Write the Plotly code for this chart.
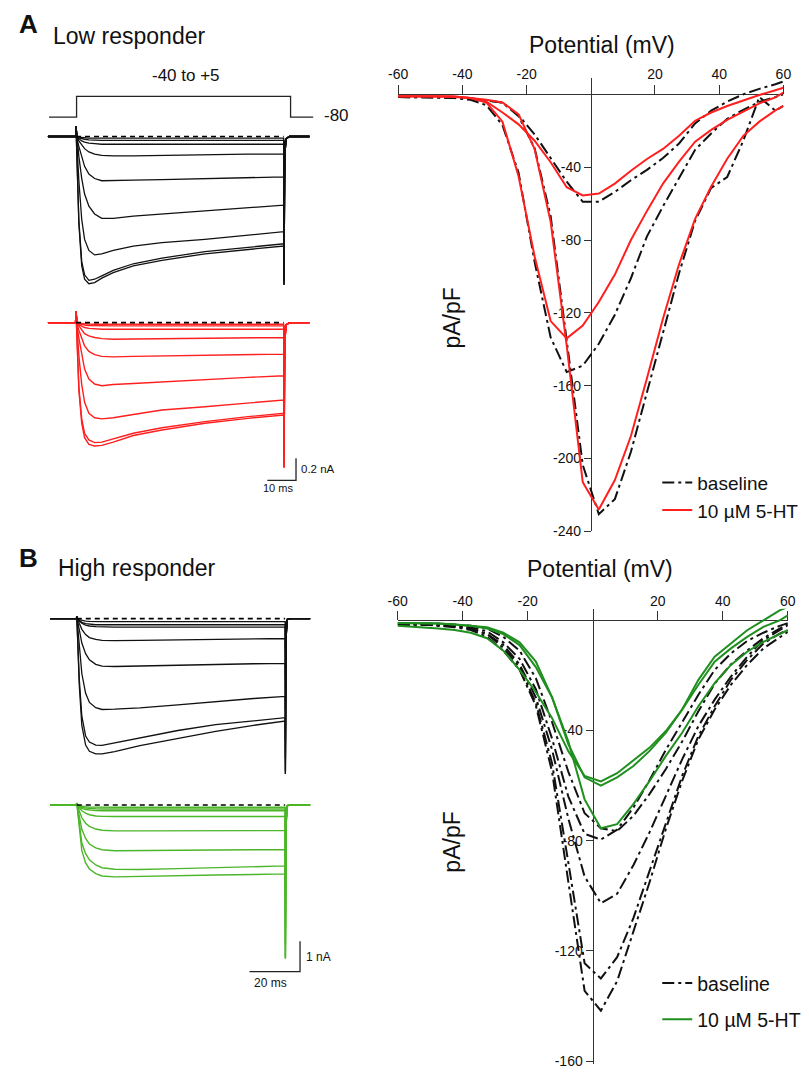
import plotly.graph_objects as go

W, H = 809, 1077
FONT = "Liberation Sans, Arial, Helvetica, sans-serif"

def fx(px):
    return px / W

def fy(py):
    return 1 - py / H

# ---------------- I-V data (pA/pF) ----------------
V = [-60, -52.5, -47.5, -42.5, -37.5, -32.5, -27.5, -22.5, -17.5, -12.5, -7.5, -2.5,
     2.5, 7.5, 12.5, 17.5, 22.5, 27.5, 32.5, 37.5, 42.5, 47.5, 52.5, 57.5, 60]

# Panel A (low responder)
A_base_small = [-1.5, -1.5, -1.5, -1.8, -2.2, -3.2, -4.5, -11.5, -22, -35, -48, -59, -59,
                -53.6, -47.2, -41.5, -35, -27, -16, -9, -4, 0, 3, 5.5, 7]
A_base_med = [-1.5, -1.5, -1.8, -2, -3, -6, -17, -43, -92, -133.5, -152.5, -149, -137,
              -121, -101, -78, -61.5, -46, -30.5, -21.5, -13.5, -8.5, -4.2, -1.5, 0]
A_base_large = [-1.5, -1.5, -1.5, -2, -2.5, -3.5, -4.5, -12, -29.6, -66.9, -134.8, -203.5, -230.5,
                -222.3, -196.3, -164, -130.3, -98.2, -69.4, -51.4, -45.4, -25.5, -1.5, -9, -6.4]
A_5ht_small = [-1, -1, -1, -1.2, -2, -4, -10, -16.5, -25.5, -37.3, -51, -55.5, -54.5,
               -49, -42, -35.5, -30, -22.7, -14.5, -10, -6.4, -3.3, -0.4, 2.2, 3.6]
A_5ht_med = [-1, -1, -1, -1.2, -2, -4.5, -15, -45, -89, -124.5, -134, -127, -114,
             -99, -80, -64, -49, -37, -26, -19.5, -14, -9.4, -5, -1.7, 1]
A_5ht_large = [-1, -1, -1, -1.5, -2, -3, -4.5, -11, -30, -70, -138, -213, -228,
               -211.8, -187.6, -155.9, -123.1, -93.3, -68.4, -50.6, -35.4, -22.8, -15, -8.8, -6.4]

# Panel B (high responder)
B_base_1 = [-1.5, -1.5, -1.8, -2, -2.5, -4, -8, -14, -25, -43, -64, -77.5, -79.6,
            -76, -68, -58, -47, -37, -27, -18, -12, -7.5, -4.5, -2, -1]
B_base_2 = [-1, -1, -1.2, -1.5, -2, -3, -6, -11, -21, -37, -55, -70, -75.5,
            -76.5, -71, -63, -54, -44, -33, -23, -16, -11, -6.5, -3, -1.5]
B_base_3 = [-1.5, -1.5, -1.8, -2, -3, -5, -9, -16, -28, -47, -72, -93, -102.7,
            -99.3, -88.9, -76.9, -63.7, -50.5, -38.4, -28.8, -20.4, -13.2, -7.2, -3.6, -1.8]
B_base_4 = [-1.5, -1.5, -1.8, -2.2, -3, -5, -10, -17, -30, -52, -88, -124.5, -130,
            -122.3, -108.1, -90.7, -73.3, -56.5, -42, -31.2, -21.6, -14.4, -8.4, -4.8, -3.6]
B_base_5 = [-1.5, -1.5, -2, -2.5, -3.5, -6, -11, -18, -31, -55, -95, -134.5, -141.7,
            -131, -113, -95, -75.7, -58.3, -43.2, -32.4, -23.4, -16.2, -10.2, -6, -4.2]
B_5ht_1 = [-2, -2.5, -3, -3.5, -4.5, -6.5, -11, -18, -26, -35.5, -47.5, -56.5, -58.5,
           -55.5, -51, -46.2, -40.2, -32.4, -21.6, -13.2, -8.4, -3.6, 0, 3.6, 4.8]
B_5ht_2 = [-1, -1, -1.2, -1.5, -2, -3, -5, -9, -17, -28, -45, -57, -60,
           -57, -52.9, -47.4, -40.8, -32.4, -23.4, -15, -10.2, -6, -2.4, 0, 1.8]
B_5ht_3 = [-1, -1, -1.2, -1.5, -2, -2.5, -4.5, -8, -15, -28, -44, -65, -75.5,
           -74, -66.7, -58.3, -49.2, -40.8, -31.2, -22.8, -16.2, -11.4, -7.8, -4.8, -3.6]

xticks_iv = [-60, -40, -20, 20, 40, 60]
yticks_A = [-240, -200, -160, -120, -80, -40]
yticks_B = [-160, -120, -80, -40]

# ---------------- current traces (nA) ----------------
TA_pre = [-9.8, -0.15, 0.0]
TA_step = [0.4, 1, 2, 3, 4.5, 6.5, 9, 13, 20, 30, 45, 60, 72.5]
TA_post = [72.6, 72.9, 73.4, 74.5, 81.5]
A_black_sweeps = [
    [-0.003, -0.006, -0.01, -0.012, -0.014, -0.015, -0.015, -0.015, -0.015, -0.015, -0.015, -0.015, -0.015],
    [-0.005, -0.012, -0.02, -0.025, -0.03, -0.033, -0.035, -0.035, -0.035, -0.035, -0.035, -0.035, -0.035],
    [-0.01, -0.02, -0.04, -0.05, -0.06, -0.065, -0.07, -0.07, -0.07, -0.07, -0.07, -0.07, -0.07],
    [-0.01, -0.04, -0.08, -0.11, -0.14, -0.16, -0.17, -0.175, -0.175, -0.17, -0.165, -0.16, -0.157],
    [-0.03, -0.09, -0.19, -0.27, -0.34, -0.38, -0.40, -0.40, -0.395, -0.39, -0.38, -0.37, -0.365],
    [-0.05, -0.18, -0.38, -0.52, -0.63, -0.70, -0.74, -0.74, -0.72, -0.70, -0.67, -0.645, -0.62],
    [-0.12, -0.40, -0.75, -0.93, -1.03, -1.07, -1.06, -1.03, -0.99, -0.96, -0.93, -0.89, -0.86],
    [-0.26, -0.76, -1.13, -1.25, -1.30, -1.29, -1.26, -1.21, -1.15, -1.10, -1.04, -1.00, -0.97],
    [-0.27, -0.79, -1.17, -1.29, -1.33, -1.32, -1.28, -1.23, -1.17, -1.12, -1.06, -1.02, -0.99],
]
A_black_tails = [-0.35, -0.55, -0.75, -0.95, -1.15, -1.3, -1.34, -1.34, -1.34]
A_red_sweeps = [
    [-0.003, -0.006, -0.01, -0.012, -0.014, -0.015, -0.015, -0.015, -0.015, -0.015, -0.015, -0.015, -0.015],
    [-0.005, -0.01, -0.018, -0.022, -0.026, -0.028, -0.03, -0.03, -0.03, -0.03, -0.03, -0.03, -0.03],
    [-0.008, -0.018, -0.035, -0.045, -0.052, -0.057, -0.06, -0.06, -0.06, -0.06, -0.06, -0.06, -0.06],
    [-0.01, -0.03, -0.07, -0.10, -0.12, -0.135, -0.145, -0.15, -0.148, -0.145, -0.14, -0.137, -0.135],
    [-0.02, -0.07, -0.15, -0.21, -0.26, -0.29, -0.305, -0.31, -0.305, -0.30, -0.295, -0.29, -0.285],
    [-0.04, -0.14, -0.30, -0.42, -0.51, -0.555, -0.57, -0.56, -0.55, -0.535, -0.515, -0.495, -0.48],
    [-0.08, -0.30, -0.56, -0.72, -0.82, -0.86, -0.87, -0.86, -0.83, -0.79, -0.76, -0.73, -0.70],
    [-0.20, -0.58, -0.87, -1.00, -1.06, -1.085, -1.08, -1.05, -1.00, -0.95, -0.895, -0.85, -0.82],
    [-0.21, -0.61, -0.91, -1.04, -1.10, -1.115, -1.11, -1.08, -1.02, -0.97, -0.91, -0.865, -0.835],
]
A_red_tails = [-0.3, -0.5, -0.7, -0.9, -1.1, -1.25, -1.31, -1.31, -1.31]
A_onset_spike = [0.09, 0.10]

prot_t = [-9.4, 0.2, 0.2, 74.9, 74.9, 82.8]
prot_v = [-80, -80, 5, 5, -80, -80]

TB_pre = [-10.6, -0.15, 0.0]
TB_step = [0.4, 1, 2, 3.5, 5, 7.5, 10, 15, 25, 40, 55, 70, 82.5]
TB_post = [82.6, 82.9, 83.4, 84.5, 92.4]
B_black_sweeps = [
    [-0.01, -0.03, -0.06, -0.08, -0.09, -0.1, -0.1, -0.1, -0.1, -0.1, -0.1, -0.1, -0.1],
    [-0.02, -0.06, -0.12, -0.16, -0.18, -0.2, -0.2, -0.2, -0.2, -0.2, -0.2, -0.2, -0.2],
    [-0.02, -0.07, -0.15, -0.21, -0.24, -0.26, -0.27, -0.28, -0.28, -0.28, -0.28, -0.28, -0.28],
    [-0.05, -0.15, -0.35, -0.52, -0.62, -0.68, -0.71, -0.72, -0.71, -0.69, -0.67, -0.66, -0.65],
    [-0.1, -0.35, -0.8, -1.15, -1.35, -1.5, -1.56, -1.57, -1.55, -1.53, -1.5, -1.48, -1.47],
    [-0.3, -0.9, -1.8, -2.45, -2.75, -2.92, -2.98, -2.97, -2.93, -2.83, -2.72, -2.62, -2.55],
    [-0.7, -2.0, -3.2, -3.85, -4.05, -4.15, -4.16, -4.08, -3.9, -3.67, -3.48, -3.35, -3.25],
    [-0.8, -2.2, -3.5, -4.15, -4.35, -4.44, -4.44, -4.36, -4.17, -3.93, -3.7, -3.5, -3.36],
]
B_black_tails = [-1.0, -2.0, -3.0, -4.0, -4.6, -5.0, -5.1, -5.1]
B_green_sweeps = [
    [-0.01, -0.025, -0.045, -0.06, -0.07, -0.075, -0.075, -0.075, -0.075, -0.075, -0.075, -0.075, -0.075],
    [-0.015, -0.04, -0.08, -0.1, -0.115, -0.125, -0.13, -0.13, -0.13, -0.13, -0.13, -0.13, -0.13],
    [-0.02, -0.06, -0.11, -0.15, -0.17, -0.185, -0.19, -0.19, -0.19, -0.19, -0.19, -0.19, -0.19],
    [-0.03, -0.09, -0.19, -0.27, -0.32, -0.36, -0.375, -0.38, -0.38, -0.38, -0.38, -0.38, -0.38],
    [-0.06, -0.2, -0.42, -0.6, -0.7, -0.79, -0.83, -0.85, -0.85, -0.85, -0.845, -0.84, -0.84],
    [-0.12, -0.4, -0.8, -1.1, -1.28, -1.41, -1.47, -1.5, -1.5, -1.49, -1.48, -1.47, -1.47],
    [-0.2, -0.65, -1.25, -1.6, -1.8, -1.97, -2.06, -2.11, -2.12, -2.09, -2.06, -2.03, -2.0],
    [-0.25, -0.8, -1.5, -1.9, -2.1, -2.25, -2.33, -2.36, -2.35, -2.32, -2.3, -2.28, -2.26],
]
B_green_tails = [-1.0, -2.0, -3.0, -4.0, -4.6, -5.0, -5.04, -5.04]
B_onset_spike = [0.07, 0.06]

scaleA = (10, 0.2)
scaleB = (20, 1.0)

RED = "#ff1f1f"
GREEN_TR = "#4cb62a"
GREEN_IV = "#1f8f1f"
BLACK = "#111111"
DASHDOT = "12px,4px,3px,4px"

fig = go.Figure()

def add_iv(vals, color, dash, xa, ya, name, show, legend, group):
    fig.add_trace(go.Scatter(x=V, y=vals, mode="lines", name=name, showlegend=show,
                             legend=legend, legendgroup=group,
                             line=dict(color=color, width=2, dash=dash),
                             xaxis=xa, yaxis=ya, hoverinfo="skip"))

for i, s in enumerate([A_base_small, A_base_med, A_base_large]):
    add_iv(s, BLACK, DASHDOT, "x", "y", "baseline", i == 0, "legend", "a1")
for i, s in enumerate([A_5ht_small, A_5ht_med, A_5ht_large]):
    add_iv(s, RED, "solid", "x", "y", "10 µM 5-HT", i == 0, "legend", "a2")
for i, s in enumerate([B_base_1, B_base_2, B_base_3, B_base_4, B_base_5]):
    add_iv(s, BLACK, DASHDOT, "x2", "y2", "baseline", i == 0, "legend2", "b1")
for i, s in enumerate([B_5ht_1, B_5ht_2, B_5ht_3]):
    add_iv(s, GREEN_IV, "solid", "x2", "y2", "10 µM 5-HT", i == 0, "legend2", "b2")

def add_sweeps(sweeps, tails, spike, tpre, tstep, tpost, color, xa, ya, width):
    t = tpre + tstep + tpost
    for s, tail in zip(sweeps, tails):
        y = [0, 0, spike] + s + [tail, tail * 0.12, -0.02, 0, 0]
        fig.add_trace(go.Scatter(x=t, y=y, mode="lines", showlegend=False,
                                 line=dict(color=color, width=width),
                                 xaxis=xa, yaxis=ya, hoverinfo="skip"))
    fig.add_trace(go.Scatter(x=[tstep[0] - 0.4, tstep[-1]], y=[0, 0], mode="lines",
                             showlegend=False,
                             line=dict(color="black", width=1.6, dash="5px,4px"),
                             xaxis=xa, yaxis=ya, hoverinfo="skip"))

add_sweeps(A_black_sweeps, A_black_tails, A_onset_spike[0], TA_pre, TA_step, TA_post,
           BLACK, "x3", "y3", 1.3)
add_sweeps(A_red_sweeps, A_red_tails, A_onset_spike[1], TA_pre, TA_step, TA_post,
           RED, "x4", "y4", 1.4)
add_sweeps(B_black_sweeps, B_black_tails, B_onset_spike[0], TB_pre, TB_step, TB_post,
           BLACK, "x5", "y5", 1.3)
add_sweeps(B_green_sweeps, B_green_tails, B_onset_spike[1], TB_pre, TB_step, TB_post,
           GREEN_TR, "x6", "y6", 1.4)

fig.add_trace(go.Scatter(x=prot_t, y=prot_v, mode="lines", showlegend=False,
                         line=dict(color="#222222", width=1.3), xaxis="x7", yaxis="y7",
                         hoverinfo="skip"))

def add_scalebar(t_end, i_bottom, scale, xa, ya):
    tl, il = scale
    fig.add_trace(go.Scatter(x=[t_end - tl, t_end, t_end], y=[i_bottom, i_bottom, i_bottom + il],
                             mode="lines", showlegend=False,
                             line=dict(color="#222222", width=1.3), xaxis=xa, yaxis=ya,
                             hoverinfo="skip"))

add_scalebar(76.8, -1.426, scaleA, "x4", "y4")
add_scalebar(88.4, -5.472, scaleB, "x6", "y6")

def iv_x(dom_px, pos_py):
    return dict(domain=[fx(dom_px[0]), fx(dom_px[1])], range=[-60, 60], anchor="free",
                position=fy(pos_py), side="top", showline=True, linecolor="#333333",
                linewidth=1.4, ticks="outside", ticklen=9, tickwidth=1.4, tickcolor="#333333",
                tickvals=xticks_iv, ticktext=[str(v) for v in xticks_iv],
                tickfont=dict(size=14, family=FONT, color="#111111"),
                showgrid=False, zeroline=False, layer="below traces", fixedrange=True)

def iv_y(dom_py, rng, pos_px, ticks):
    return dict(domain=[fy(dom_py[1]), fy(dom_py[0])], range=rng, anchor="free",
                position=fx(pos_px), side="left", showline=True, linecolor="#333333",
                linewidth=1.4, ticks="outside", ticklen=7, tickwidth=1.4, tickcolor="#333333",
                tickvals=ticks, ticktext=[str(v) for v in ticks],
                tickfont=dict(size=14, family=FONT, color="#111111"),
                showgrid=False, zeroline=False, layer="below traces", fixedrange=True)

def hidden(dom, rng, is_x):
    d = dict(range=rng, visible=False, showgrid=False, zeroline=False, fixedrange=True)
    if is_x:
        d["domain"] = [fx(dom[0]), fx(dom[1])]
    else:
        d["domain"] = [fy(dom[1]), fy(dom[0])]
    return d

A_t0px, A_pxms = 67.5, 2.93
B_t0px, B_pxms = 68.3, 2.583
A_pxnA, B_pxnA = 111.5, 30.7

def trange(x0, x1, t0px, pxms):
    return [(x0 - t0px) / pxms, (x1 - t0px) / pxms]

def irange(y0, y1, base, pxn):
    return [-(y1 - base) / pxn, (base - y0) / pxn]

layout_axes = dict(
    xaxis=iv_x([397, 791], 95),
    yaxis=iv_y([78.5, 535.4], [-240, 9], 594.3, yticks_A),
    xaxis2=iv_x([396.5, 795.5], 625),
    yaxis2=iv_y([613.3, 1071.8], [-161, 4.2], 596, yticks_B),
    xaxis3=hidden([30, 320], trange(30, 320, A_t0px, A_pxms), True),
    yaxis3=hidden([115, 300], irange(115, 300, 137.5, A_pxnA), False),
    xaxis4=hidden([30, 340], trange(30, 340, A_t0px, A_pxms), True),
    yaxis4=hidden([300, 500], irange(300, 500, 325, A_pxnA), False),
    xaxis5=hidden([30, 320], trange(30, 320, B_t0px, B_pxms), True),
    yaxis5=hidden([605, 790], irange(605, 790, 623.3, B_pxnA), False),
    xaxis6=hidden([30, 340], trange(30, 340, B_t0px, B_pxms), True),
    yaxis6=hidden([795, 1000], irange(795, 1000, 811, B_pxnA), False),
    xaxis7=hidden([30, 320], trange(30, 320, A_t0px, A_pxms), True),
    yaxis7=hidden([85, 125], [-80 - 7 * 85 / 21, -80 + 33 * 85 / 21], False),
)
for k in ["yaxis3", "yaxis4", "yaxis5", "yaxis6", "yaxis7"]:
    layout_axes[k]["anchor"] = "x" + k[5:]
for k in ["xaxis3", "xaxis4", "xaxis5", "xaxis6", "xaxis7"]:
    layout_axes[k]["anchor"] = "y" + k[5:]

def txt(text, x, y, size, bold=False, angle=0):
    return dict(text=("<b>%s</b>" % text) if bold else text, x=fx(x), y=fy(y),
                xref="paper", yref="paper", xanchor="center", yanchor="middle",
                showarrow=False, textangle=angle,
                font=dict(size=size, family=FONT, color="#111111"))

annotations = [
    txt("A", 19, 24, 26, bold=True),
    txt("Low responder", 122, 36, 23),
    txt("-40 to +5", 180, 76, 17),
    txt("-80", 334, 116, 17),
    txt("Potential (mV)", 605, 45, 23),
    txt("pA/pF", 452, 320, 23, angle=-90),
    txt("0.2 nA", 315, 473, 11.5),
    txt("10 ms", 274, 492, 11),
    txt("B", 19, 562, 26, bold=True),
    txt("High responder", 130, 572, 23),
    txt("Potential (mV)", 603, 573, 23),
    txt("pA/pF", 452, 848, 23, angle=-90),
    txt("1 nA", 316, 964, 12),
    txt("20 ms", 266, 990, 12),
]

fig.update_layout(
    width=W, height=H, margin=dict(l=0, r=0, t=0, b=0),
    paper_bgcolor="white", plot_bgcolor="rgba(0,0,0,0)",
    font=dict(family=FONT, color="#111111"),
    annotations=annotations,
    legend=dict(x=fx(662), y=fy(467), xanchor="left", yanchor="top",
                font=dict(size=19, family=FONT, color="#111111"),
                bgcolor="rgba(0,0,0,0)", borderwidth=0, tracegroupgap=0,
                traceorder="normal"),
    legend2=dict(x=fx(662), y=fy(971), xanchor="left", yanchor="top",
                 font=dict(size=19.5, family=FONT, color="#111111"),
                 bgcolor="rgba(0,0,0,0)", borderwidth=0, tracegroupgap=8,
                 traceorder="grouped"),
    **layout_axes,
)

fig.write_html("out.html")
